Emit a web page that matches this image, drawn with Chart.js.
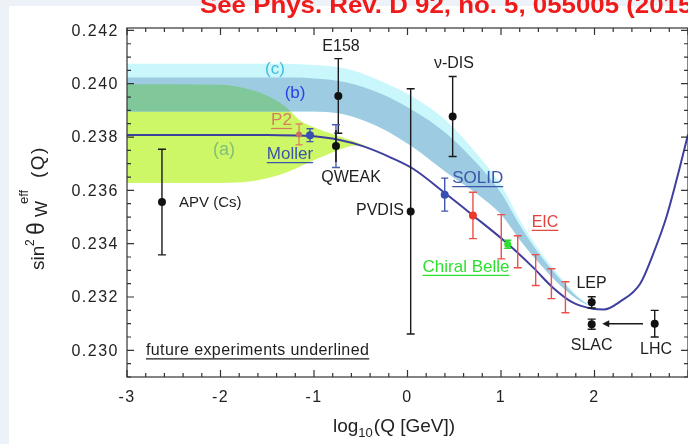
<!DOCTYPE html>
<html>
<head>
<meta charset="utf-8">
<title>Running of sin²θW</title>
<script src="https://cdn.jsdelivr.net/npm/chart.js@4/dist/chart.umd.min.js"></script>
<style>
  html, body { margin: 0; padding: 0; width: 688px; height: 444px; overflow: hidden; background: #edf2f8; }
  canvas { display: block; }
</style>
</head>
<body>
<canvas id="chart" width="700" height="444"></canvas>
<script>
// Standard Model running of the weak mixing angle, log10(Q/GeV) vs sin^2 theta_W
const curveX = [-3, -2, -1.5, -1.2, -1.0, -0.75, -0.47, -0.19, 0.06, 0.41, 0.70, 1.05, 1.34, 1.55, 1.76, 1.98, 2.10, 2.27, 2.49, 2.63, 2.77, 2.914, 3.0];
const curveY = [0.23808, 0.23808, 0.23808, 0.23806, 0.23803, 0.23791, 0.23765, 0.23725, 0.23681, 0.23587, 0.23506, 0.23406, 0.23312, 0.23237, 0.23181, 0.23156, 0.23153, 0.23182, 0.23251, 0.23364, 0.23501, 0.23689, 0.23810];

// Bands (b) and (c)
const bandX      = [-3, -1.4, -1.0, -0.65, -0.3, 0.06, 0.41, 0.77, 1.0, 1.2, 1.4, 1.6, 1.8, 1.98];
const cyanTop    = [0.24075, 0.24075, 0.24070, 0.24056, 0.24012, 0.23950, 0.23862, 0.23725, 0.23620, 0.23490, 0.23380, 0.23290, 0.23210, 0.23160];
const blueTop    = [0.24023, 0.24023, 0.24020, 0.24005, 0.23965, 0.23900, 0.23815, 0.23690, 0.23590, 0.23470, 0.23365, 0.23280, 0.23205, 0.23160];
const blueBottom = [0.23896, 0.23896, 0.23896, 0.23883, 0.23837, 0.23762, 0.23669, 0.23580, 0.23510, 0.23415, 0.23330, 0.23255, 0.23195, 0.23160];

// Band (a)
const bandAX      = [-3, -2.0, -1.65, -1.47, -1.29, -1.16, -0.94, -0.76, -0.55, -0.42];
const bandATop    = [0.23998, 0.23996, 0.23975, 0.23950, 0.23910, 0.23865, 0.23828, 0.23806, 0.23781, 0.23762];
const bandABottom = [0.23628, 0.23628, 0.23635, 0.23648, 0.23668, 0.23688, 0.23722, 0.23748, 0.23768, 0.23762];

// Where bands (a) and (b) overlap
const overlapX      = [-3, -2.0, -1.65, -1.47, -1.29, -1.25];
const overlapTop    = [0.23998, 0.23996, 0.23975, 0.23950, 0.23910, 0.23896];
const overlapBottom = [0.23896, 0.23896, 0.23896, 0.23896, 0.23896, 0.23896];

// Measurements: APV (Cs), E158, PVDIS, nu-DIS, LEP, SLAC, LHC
const measX   = [-2.626, -0.740, 0.034, 0.483, 1.970, 1.970, 2.644];
const measY   = [0.23556, 0.23954, 0.23521, 0.23877, 0.23180, 0.23098, 0.23100];
const measErr = [0.00198, 0.00140, 0.00460, 0.00150, 0.00021, 0.00019, 0.00050];

// QWEAK: current and projected uncertainty
const qweakX = [-0.765];
const qweakY = [0.23766];
const qweakErr = [0.00060];
const qweakProjErr = [0.00080];

// Future: Moller, SOLID
const futureBlueX   = [-1.043, 0.398];
const futureBlueY   = [0.23807, 0.23584];
const futureBlueErr = [0.00024, 0.00062];

// Future: P2
const p2X = [-1.160];
const p2Y = [0.23810];
const p2Err = [0.00039];

// Future: EIC (first bin carries the marker)
const eicX   = [0.700, 1.003, 1.179, 1.371, 1.539, 1.689];
const eicY   = [0.23506, 0.23426, 0.23370, 0.23301, 0.23250, 0.23199];
const eicErr = [0.00087, 0.00083, 0.00060, 0.00058, 0.00056, 0.00058];

// Future: Chiral Belle
const belleX = [1.072];
const belleY = [0.23398];
const belleErr = [0.00015];

// LHC value carried to the Z pole
const arrowX = [2.519, 2.083];
const arrowY = [0.23100, 0.23100];

// Axes
const xTickValues = [-3, -2, -1, 0, 1, 2];
const xTickLabels = ['-3', '-2', '-1', '0', '1', '2'];
const yTickValues = [0.230, 0.232, 0.234, 0.236, 0.238, 0.240, 0.242];
const yTickLabels = ['0.230', '0.232', '0.234', '0.236', '0.238', '0.240', '0.242'];

// Annotations
const notes = [
  { text: '(c)', x: -1.417, y: 0.24055, color: '#3fbbe0', size: 17 },
  { text: '(b)', x: -1.203, y: 0.23965, color: '#2a40e6', size: 17 },
  { text: 'P2', x: -1.348, y: 0.23864, color: '#d27f5c', size: 17, underline: true },
  { text: '(a)', x: -1.963, y: 0.23751, color: '#82bf78', size: 18 },
  { text: 'Moller', x: -1.257, y: 0.23736, color: '#3d55a8', size: 17, underline: true },
  { text: 'E158', x: -0.711, y: 0.24138, color: '#1e1e1e', size: 16 },
  { text: 'ν-DIS', x: 0.497, y: 0.24074, color: '#1e1e1e', size: 16 },
  { text: 'QWEAK', x: -0.604, y: 0.23648, color: '#1e1e1e', size: 16 },
  { text: 'PVDIS', x: -0.037, y: 0.23523, color: '#1e1e1e', size: 16, align: 'right' },
  { text: 'SOLID', x: 0.751, y: 0.23646, color: '#3d55a8', size: 17, underline: true },
  { text: 'APV (Cs)', x: -2.444, y: 0.23553, color: '#1e1e1e', size: 15, align: 'left' },
  { text: 'EIC', x: 1.471, y: 0.23480, color: '#e4403a', size: 16, underline: true },
  { text: 'Chiral Belle', x: 0.626, y: 0.23313, color: '#2fdf2f', size: 17, underline: true },
  { text: 'LEP', x: 1.968, y: 0.23249, color: '#1e1e1e', size: 16 },
  { text: 'SLAC', x: 1.970, y: 0.23018, color: '#1e1e1e', size: 16 },
  { text: 'LHC', x: 2.658, y: 0.23001, color: '#1e1e1e', size: 16 },
  { text: 'future experiments underlined', x: -2.797, y: 0.22998, color: '#1e1e1e', size: 16, align: 'left', underline: true, spacing: 0.4 }
];

const headerText = 'See Phys. Rev. D 92, no. 5, 055005 (2015)';
const FONT = '"Liberation Sans", Arial, Helvetica, sans-serif';

const pts = (xs, ys) => xs.map((v, i) => ({ x: v, y: ys[i] }));

const edge = { showLine: true, pointRadius: 0, borderWidth: 0, borderColor: 'rgba(0,0,0,0)', cubicInterpolationMode: 'monotone' };
const CURVE_INDEX = 7;

function errorBar(ctx, x, y, xv, yv, err, color, cap, lw) {
  const px = x.getPixelForValue(xv);
  const top = y.getPixelForValue(yv + err);
  const bot = y.getPixelForValue(yv - err);
  ctx.strokeStyle = color;
  ctx.lineWidth = lw;
  ctx.beginPath();
  ctx.moveTo(px, top); ctx.lineTo(px, bot);
  ctx.moveTo(px - cap, top); ctx.lineTo(px + cap, top);
  ctx.moveTo(px - cap, bot); ctx.lineTo(px + cap, bot);
  ctx.stroke();
}

const pagePlugin = {
  id: 'page',
  beforeDraw(chart) {
    const c = chart.ctx;
    c.save();
    c.fillStyle = '#edf2f8';
    c.fillRect(0, 0, chart.width, chart.height);
    c.fillStyle = '#ffffff';
    c.fillRect(9, 6, chart.width - 9, chart.height - 6);
    c.font = 'bold 23px ' + FONT;
    c.fillStyle = '#f01a1a';
    c.textBaseline = 'alphabetic';
    const lead = c.measureText('See Phys. Rev. D 92, no. 5, 055005 (201').width;
    c.translate(200, 13);
    c.scale(478 / lead, 1);
    c.fillText(headerText, 0, 0);
    c.restore();
  }
};

const errorBarPlugin = {
  id: 'errorBars',
  afterDatasetDraw(chart, args) {
    if (args.index !== CURVE_INDEX) return;
    const { ctx, scales: { x, y } } = chart;
    ctx.save();
    measX.forEach((v, i) => errorBar(ctx, x, y, v, measY[i], measErr[i], '#1a1a1a', 4, 1.4));
    errorBar(ctx, x, y, qweakX[0], qweakY[0], qweakProjErr[0], '#4a5db5', 4, 1.4);
    errorBar(ctx, x, y, qweakX[0], qweakY[0], qweakErr[0], '#1a1a1a', 0, 1.6);
    futureBlueX.forEach((v, i) => errorBar(ctx, x, y, v, futureBlueY[i], futureBlueErr[i], '#3d55b0', 3.5, 1.4));
    p2X.forEach((v, i) => errorBar(ctx, x, y, v, p2Y[i], p2Err[i], '#dc8a63', 3.5, 1.4));
    eicX.forEach((v, i) => errorBar(ctx, x, y, v, eicY[i], eicErr[i], '#ec5048', 4, 1.4));
    belleX.forEach((v, i) => errorBar(ctx, x, y, v, belleY[i], belleErr[i], '#28d628', 3.5, 1.4));
    // arrow
    const x0 = x.getPixelForValue(arrowX[0]);
    const x1 = x.getPixelForValue(arrowX[1]);
    const ay = y.getPixelForValue(arrowY[0]);
    ctx.strokeStyle = '#1a1a1a';
    ctx.fillStyle = '#1a1a1a';
    ctx.lineWidth = 1.5;
    ctx.beginPath();
    ctx.moveTo(x0, ay); ctx.lineTo(x1 + 5, ay);
    ctx.stroke();
    ctx.beginPath();
    ctx.moveTo(x1, ay); ctx.lineTo(x1 + 7, ay - 3.5); ctx.lineTo(x1 + 7, ay + 3.5); ctx.closePath();
    ctx.fill();
    ctx.restore();
  }
};

const decorPlugin = {
  id: 'decor',
  afterDatasetsDraw(chart) {
    const { ctx, chartArea: a, scales: { x, y } } = chart;
    ctx.save();
    // frame and inward ticks
    ctx.strokeStyle = '#333333';
    ctx.lineWidth = 1.2;
    ctx.beginPath();
    for (let k = 0; k <= 30; k++) {
      const px = x.getPixelForValue(-3 + k * 0.2);
      const L = k % 5 === 0 ? 7 : 4;
      ctx.moveTo(px, a.bottom); ctx.lineTo(px, a.bottom - L);
      ctx.moveTo(px, a.top); ctx.lineTo(px, a.top + L);
    }
    for (let k = 0; k <= 26; k++) {
      const py = y.getPixelForValue(0.229 + k * 0.0005);
      const L = k % 4 === 2 ? 7 : 4;
      ctx.moveTo(a.left, py); ctx.lineTo(a.left + L, py);
      ctx.moveTo(a.right, py); ctx.lineTo(a.right - L, py);
    }
    ctx.stroke();
    ctx.strokeRect(a.left, a.top, a.right - a.left, a.bottom - a.top);

    // tick labels
    ctx.fillStyle = '#222222';
    ctx.font = '16px ' + FONT;
    ctx.letterSpacing = '1.5px';
    ctx.textBaseline = 'middle';
    ctx.textAlign = 'right';
    yTickValues.forEach((v, i) => ctx.fillText(yTickLabels[i], a.left - 8, y.getPixelForValue(v) + 1));
    ctx.textAlign = 'center';
    ctx.textBaseline = 'alphabetic';
    xTickValues.forEach((v, i) => ctx.fillText(xTickLabels[i], x.getPixelForValue(v), a.bottom + 25));
    ctx.letterSpacing = '0px';

    // annotations
    notes.forEach(n => {
      ctx.font = n.size + 'px ' + FONT;
      ctx.letterSpacing = (n.spacing || 0) + 'px';
      ctx.fillStyle = n.color;
      ctx.textAlign = n.align || 'center';
      ctx.textBaseline = 'middle';
      const px = x.getPixelForValue(n.x);
      const py = y.getPixelForValue(n.y);
      ctx.fillText(n.text, px, py);
      if (n.underline) {
        const w = ctx.measureText(n.text).width;
        const l = n.align === 'left' ? px : n.align === 'right' ? px - w : px - w / 2;
        const uy = py + n.size * 0.5;
        ctx.strokeStyle = n.color;
        ctx.lineWidth = 1.2;
        ctx.beginPath();
        ctx.moveTo(l, uy); ctx.lineTo(l + w, uy);
        ctx.stroke();
      }
    });
    ctx.letterSpacing = '0px';

    // x-axis title: log10(Q [GeV])
    ctx.fillStyle = '#222222';
    ctx.textAlign = 'left';
    ctx.textBaseline = 'alphabetic';
    let cx = a.left + 206;
    const by = a.bottom + 55;
    ctx.font = '19px ' + FONT;
    ctx.fillText('log', cx, by); cx += ctx.measureText('log').width;
    ctx.font = '13px ' + FONT;
    ctx.fillText('10', cx, by + 5); cx += ctx.measureText('10').width + 1;
    ctx.font = '19px ' + FONT;
    ctx.fillText('(Q [GeV])', cx, by);

    // y-axis title: sin^2 theta_W^eff (Q)
    ctx.translate(a.left - 83, a.top + 242);
    ctx.rotate(-Math.PI / 2);
    ctx.font = '19px ' + FONT;
    ctx.fillText('sin', 0, 0);
    ctx.font = '12px ' + FONT;
    ctx.fillText('2', 24, -10);
    ctx.font = '23px ' + FONT;
    ctx.fillText('θ', 35, 0);
    ctx.font = '17px ' + FONT;
    ctx.fillText('W', 53, 3);
    ctx.font = '13px ' + FONT;
    ctx.fillText('eff', 66, -16);
    ctx.font = '19px ' + FONT;
    ctx.letterSpacing = '1.5px';
    ctx.fillText('(Q)', 92, 0);
    ctx.letterSpacing = '0px';
    ctx.restore();
  }
};

new Chart(document.getElementById('chart').getContext('2d'), {
  type: 'line',
  data: {
    datasets: [
      { label: 'band (c)', data: pts(bandX, cyanTop), ...edge, fill: 2, backgroundColor: '#c9f7fc', order: 10 },
      { label: 'band (b)', data: pts(bandX, blueTop), ...edge, fill: 2, backgroundColor: '#9dcbe2', order: 9 },
      { label: 'band (b) lower', data: pts(bandX, blueBottom), ...edge, fill: false, order: 9 },
      { label: 'band (a)', data: pts(bandAX, bandATop), ...edge, fill: 4, backgroundColor: '#cdf766', order: 12 },
      { label: 'band (a) lower', data: pts(bandAX, bandABottom), ...edge, fill: false, order: 12 },
      { label: 'bands (a)+(b)', data: pts(overlapX, overlapTop), ...edge, fill: 6, backgroundColor: '#80c79a', order: 8 },
      { label: 'bands (a)+(b) lower', data: pts(overlapX, overlapBottom), ...edge, fill: false, order: 8 },
      { label: 'SM', data: pts(curveX, curveY), showLine: true, pointRadius: 0, borderWidth: 2, borderColor: '#3f3f9f', fill: false, cubicInterpolationMode: 'monotone', order: 5 },
      { label: 'measured', data: pts(measX, measY), showLine: false, pointRadius: 4, pointBorderWidth: 0, pointBackgroundColor: '#111111', order: 1 },
      { label: 'QWEAK', data: pts(qweakX, qweakY), showLine: false, pointRadius: 4, pointBorderWidth: 0, pointBackgroundColor: '#111111', order: 1 },
      { label: 'Moller, SOLID', data: pts(futureBlueX, futureBlueY), showLine: false, pointRadius: 4, pointBorderWidth: 0, pointBackgroundColor: '#3550b0', order: 1 },
      { label: 'P2', data: pts(p2X, p2Y), showLine: false, pointRadius: 3, pointBorderWidth: 0, pointBackgroundColor: '#c9715e', order: 1 },
      { label: 'EIC', data: pts(eicX.slice(0, 1), eicY.slice(0, 1)), showLine: false, pointRadius: 4, pointBorderWidth: 0, pointBackgroundColor: '#ea3a2c', order: 1 },
      { label: 'Chiral Belle', data: pts(belleX, belleY), showLine: false, pointRadius: 3.5, pointBorderWidth: 0, pointBackgroundColor: '#2ee02e', order: 1 }
    ]
  },
  options: {
    responsive: false,
    animation: false,
    devicePixelRatio: 1,
    layout: { padding: { left: 127, top: 28, right: 12, bottom: 67 } },
    scales: {
      x: { type: 'linear', min: -3, max: 3, display: false },
      y: { type: 'linear', min: 0.229, max: 0.24209, display: false }
    },
    plugins: {
      legend: { display: false },
      tooltip: { enabled: false },
      filler: { propagate: false }
    }
  },
  plugins: [pagePlugin, errorBarPlugin, decorPlugin]
});
</script>
</body>
</html>
